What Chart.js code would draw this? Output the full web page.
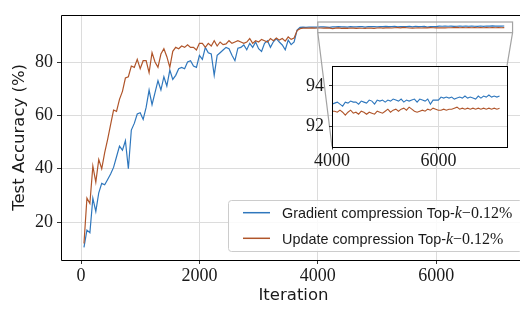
<!DOCTYPE html>
<html><head><meta charset="utf-8">
<script src="https://cdn.jsdelivr.net/npm/chart.js@4"></script>
<style>
html,body{margin:0;padding:0;width:520px;height:309px;overflow:hidden;background:#fff;}
#wrap{position:relative;width:520px;height:309px;overflow:hidden;}
#main{position:absolute;left:0;top:0;}
#inset{position:absolute;left:290px;top:50px;}
</style></head><body>
<div id="wrap">
<canvas id="main" width="530" height="309"></canvas>
<canvas id="inset" width="230" height="125"></canvas>
</div>
<script>
// ---------------- data ----------------
const iterations = [
  50,100,150,200,250,300,350,400,450,500,
  550,600,650,700,750,800,850,900,950,1000,
  1050,1100,1150,1200,1250,1300,1350,1400,1450,1500,
  1550,1600,1650,1700,1750,1800,1850,1900,1950,2000,
  2050,2100,2150,2200,2250,2300,2350,2400,2450,2500,
  2550,2600,2650,2700,2750,2800,2850,2900,2950,3000,
  3050,3100,3150,3200,3250,3300,3350,3400,3450,3500,
  3550,3600,3650,3700,3750,3800,3850,3900,3950,4000,
  4050,4100,4150,4200,4250,4300,4350,4400,4450,4500,
  4550,4600,4650,4700,4750,4800,4850,4900,4950,5000,
  5050,5100,5150,5200,5250,5300,5350,5400,5450,5500,
  5550,5600,5650,5700,5750,5800,5850,5900,5950,6000,
  6050,6100,6150,6200,6250,6300,6350,6400,6450,6500,
  6550,6600,6650,6700,6750,6800,6850,6900,6950,7000,
  7050,7100,7150
];
const gradientAcc = [
  10.5,17,16,29,24,31,34.5,34,36,38,
  40.5,44.5,48.5,47,50.5,40,54.5,57,60.5,61,
  58.5,63,69.5,64,68.5,73,69.5,74.5,71,77,
  73.5,75,77.5,78,77.5,80,80.5,78.5,78,82.5,
  81,85.5,83.5,83,75,82.5,83.5,84.5,85.5,85,
  82.5,80.5,85.2,85.5,86.4,84.6,87,85.5,87.5,85,
  84,87,88,85.5,87.6,88.8,87.5,86.4,84.6,88.2,
  86.5,87.5,92,93,93.1,93.0,93.1,93.05,93.1,93.1,
  93.15,93.2,93.1,93.0,93.2,93.15,93.25,93.2,93.2,93.1,
  93.25,93.2,93.15,93.3,93.25,93.1,93.3,93.25,93.3,93.2,
  93.3,93.25,93.35,93.3,93.25,93.35,93.2,93.3,93.25,93.3,
  93.35,93.2,93.35,93.3,93.25,93.35,93.1,93.3,93.3,93.3,
  93.45,93.4,93.45,93.4,93.45,93.35,93.4,93.45,93.4,93.5,
  93.4,93.45,93.4,93.35,93.5,93.4,93.5,93.45,93.55,93.45,
  93.5,93.45,93.5
];
const updateAcc = [
  12,29,27,41,35,43.5,40,46,51,56.5,
  62,61.5,66,69,74,74.5,78.5,78,81,77.5,
  80.5,80.5,76,83.5,80,78,83,85,82,78,
  84,85.5,85,86,85.5,86.5,85.5,85.5,84.5,87,
  87,85.5,87,86,88,86,87.5,86.5,86.8,88,
  87,87.5,88,87.5,87,87.5,88.8,87,88,87.5,
  88.5,88,87.5,88.8,88,89,88.2,88.8,87.8,89.4,
  88.5,89,91.8,92.5,92.7,92.75,92.7,92.8,92.7,92.75,
  92.75,92.7,92.8,92.7,92.55,92.7,92.8,92.65,92.7,92.6,
  92.75,92.7,92.6,92.7,92.65,92.6,92.75,92.7,92.65,92.75,
  92.85,92.7,92.8,92.85,92.75,92.85,92.9,92.8,92.95,92.85,
  92.75,92.7,92.75,92.8,92.75,92.85,92.8,92.9,92.85,92.8,
  92.8,92.85,92.8,92.85,92.85,92.9,92.95,92.85,92.9,92.85,
  92.9,92.85,92.9,92.85,92.9,92.85,92.9,92.85,92.9,92.85,
  92.9,92.85,92.9
];
const seriesNames = ['Gradient compression Top-', 'Update compression Top-'];
const mathItalic = 'k';
const mathSuffix = '\u22120.12%';
const xTicks = [0, 2000, 4000, 6000];
const yTicks = [20, 40, 60, 80];
const insetXTicks = [4000, 6000];
const insetYTicks = [92, 94];
const xTitle = 'Iteration';
const yTitle = 'Test Accuracy (%)';
const xRange = [-338, 7517];
const yRange = [5.8, 97.7];
const insetXRange = [4000, 7290];
const insetYRange = [91, 95];

// ---------------- style ----------------
const BLUE = '#2f77bd';
const BROWN = '#b0552a';
const GRID = '#dcdcdc';
const TXT = '#1a1a1a';
const SERIF = '"Liberation Serif", "Times New Roman", serif';
const SANS = '"DejaVu Sans", sans-serif';
const INSET_LEFT = 290, INSET_TOP = 50;

function mkDatasets(width) {
  return [
    {label: seriesNames[0] + mathItalic + mathSuffix, data: iterations.map((x, i) => ({x, y: gradientAcc[i]})),
     borderColor: BLUE, borderWidth: width, pointRadius: 0, tension: 0, order: 1},
    {label: seriesNames[1] + mathItalic + mathSuffix, data: iterations.map((x, i) => ({x, y: updateAcc[i]})),
     borderColor: BROWN, borderWidth: width, pointRadius: 0, tension: 0, order: 0}
  ];
}

function tickFont() { return {family: SERIF, size: 18}; }

// ---------------- inset chart ----------------
const insetDecor = {
  id: 'insetDecor',
  beforeDraw(chart) {
    const {ctx, chartArea: a} = chart;
    ctx.save();
    ctx.fillStyle = '#fff';
    ctx.fillRect(a.left, a.top, a.right - a.left, a.bottom - a.top);
    ctx.restore();
  },
  afterDatasetsDraw(chart) {
    const {ctx, chartArea: a} = chart;
    ctx.save();
    ctx.strokeStyle = '#000';
    ctx.lineWidth = 1;
    ctx.strokeRect(Math.round(a.left) + 0.5, Math.round(a.top) + 0.5, Math.round(a.right - a.left), Math.round(a.bottom - a.top));
    ctx.restore();
  }
};

const insetChart = new Chart(document.getElementById('inset'), {
  type: 'line',
  data: {datasets: mkDatasets(1.1)},
  options: {
    responsive: false, animation: false, devicePixelRatio: 1,
    layout: {padding: {top: 9, right: 13, left: 0, bottom: 0}},
    plugins: {legend: {display: false}, tooltip: {enabled: false}},
    scales: {
      x: {type: 'linear', min: insetXRange[0], max: insetXRange[1],
          afterFit(s) { s.height = 28.5; },
          afterBuildTicks(s) { s.ticks = insetXTicks.map(v => ({value: v})); },
          grid: {color: GRID, lineWidth: 1, tickLength: 3, tickColor: '#333'},
          border: {display: false},
          ticks: {font: tickFont(), color: TXT, padding: 1, maxRotation: 0, autoSkip: false, callback: v => String(v)}},
      y: {type: 'linear', min: insetYRange[0], max: insetYRange[1],
          afterFit(s) { s.width = 42; },
          afterBuildTicks(s) { s.ticks = insetYTicks.map(v => ({value: v})); },
          grid: {color: GRID, lineWidth: 1, tickLength: 3, tickColor: '#333'},
          border: {display: false},
          ticks: {font: tickFont(), color: TXT, padding: 5, autoSkip: false, callback: v => String(v)}}
    }
  },
  plugins: [insetDecor]
});

// ---------------- main chart ----------------
const mainDecor = {
  id: 'mainDecor',
  afterDatasetsDraw(chart) {
    const {ctx, chartArea: a, scales: {x, y}} = chart;
    ctx.save();
    // spines
    ctx.strokeStyle = '#000';
    ctx.lineWidth = 1;
    const L = Math.round(a.left) + 0.5, T = Math.round(a.top) + 0.5, B = Math.round(a.bottom) + 0.5;
    ctx.beginPath();
    ctx.moveTo(L, B); ctx.lineTo(L, T); ctx.lineTo(a.right, T);
    ctx.moveTo(L, B); ctx.lineTo(a.right, B);
    ctx.stroke();
    // zoom rectangle + connectors
    const ix = insetChart.scales.x, iy = insetChart.scales.y, ia = insetChart.chartArea;
    const bx0 = x.getPixelForValue(ix.min), bx1 = x.getPixelForValue(ix.max);
    const by0 = y.getPixelForValue(iy.max), by1 = y.getPixelForValue(iy.min);
    ctx.strokeStyle = '#a3a3a3';
    ctx.lineWidth = 1.2;
    ctx.strokeRect(bx0, by0, bx1 - bx0, by1 - by0);
    ctx.beginPath();
    ctx.moveTo(bx0, by1); ctx.lineTo(INSET_LEFT + ia.left, INSET_TOP + ia.bottom);
    ctx.moveTo(bx1, by1); ctx.lineTo(INSET_LEFT + ia.right, INSET_TOP + ia.top);
    ctx.stroke();
    ctx.restore();
  },
  afterDraw(chart) {
    const {ctx} = chart;
    ctx.save();
    // legend frame
    ctx.beginPath();
    ctx.roundRect(228.5, 200.5, 294, 51, 3);
    ctx.fillStyle = 'rgba(255,255,255,0.85)';
    ctx.fill();
    ctx.strokeStyle = '#cccccc';
    ctx.lineWidth = 1;
    ctx.stroke();
    const ds = chart.data.datasets;
    ds.forEach((d, i) => {
      const yy = 212.7 + i * 25.6;
      ctx.strokeStyle = d.borderColor;
      ctx.lineWidth = 1.5;
      ctx.beginPath(); ctx.moveTo(243, yy); ctx.lineTo(270, yy); ctx.stroke();
      ctx.fillStyle = TXT;
      ctx.textBaseline = 'alphabetic';
      ctx.textAlign = 'left';
      let tx = 282;
      const base = yy + 5.5;
      ctx.font = '14.4px "Liberation Sans", Arial, sans-serif';
      ctx.fillText(seriesNames[i], tx, base);
      tx += ctx.measureText(seriesNames[i]).width;
      ctx.font = 'italic 16px ' + SERIF;
      ctx.fillText(mathItalic, tx, base);
      tx += ctx.measureText(mathItalic).width;
      ctx.font = '16px ' + SERIF;
      ctx.fillText(mathSuffix, tx, base);
    });
    ctx.restore();
  }
};

const mainChart = new Chart(document.getElementById('main'), {
  type: 'line',
  data: {datasets: mkDatasets(1.2)},
  options: {
    responsive: false, animation: false, devicePixelRatio: 1,
    layout: {padding: {top: 5, right: 4, left: 0, bottom: 0}},
    plugins: {legend: {display: false}, tooltip: {enabled: false}},
    scales: {
      x: {type: 'linear', min: xRange[0], max: xRange[1],
          afterFit(s) { s.height = 49; },
          afterBuildTicks(s) { s.ticks = xTicks.map(v => ({value: v})); },
          grid: {color: GRID, lineWidth: 1, tickLength: 4, tickColor: '#333'},
          border: {display: false},
          ticks: {font: tickFont(), color: TXT, padding: 1, maxRotation: 0, autoSkip: false, callback: v => String(v)},
          title: {display: true, text: xTitle, font: {family: SANS, size: 16.5}, color: TXT, padding: {top: 0, bottom: 3}}},
      y: {type: 'linear', min: yRange[0], max: yRange[1],
          afterFit(s) { s.width = 61; },
          afterBuildTicks(s) { s.ticks = yTicks.map(v => ({value: v})); },
          grid: {color: GRID, lineWidth: 1, tickLength: 4, tickColor: '#333'},
          border: {display: false},
          ticks: {font: tickFont(), color: TXT, padding: 4, autoSkip: false, callback: v => String(v)},
          title: {display: true, text: yTitle, font: {family: SANS, size: 16.5}, color: TXT, padding: {top: 10, bottom: 0}}}
    }
  },
  plugins: [mainDecor]
});
</script>
</body></html>
